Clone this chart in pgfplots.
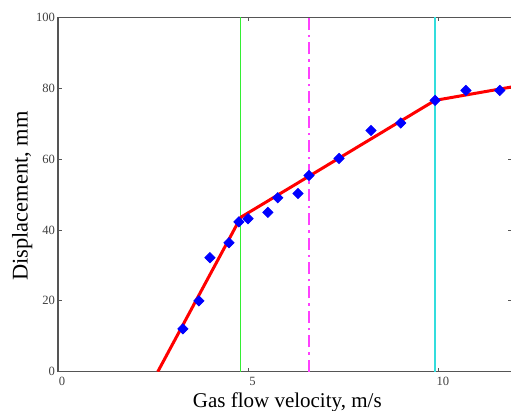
\documentclass[border=0pt]{standalone}
\usepackage{pgfplots}
\pgfplotsset{compat=1.18}
\usepackage{fontspec}
\setmainfont{Liberation Serif}
\definecolor{axgray}{HTML}{555555}
\definecolor{tickgray}{HTML}{404040}
\definecolor{mygreen}{HTML}{33EE33}
\definecolor{mycyan}{HTML}{33DDDD}
\definecolor{mymag}{rgb}{1,0.25,1}
\begin{document}
\begin{tikzpicture}
\path[use as bounding box] (-29pt,-19.65pt) rectangle (226.5pt,185.85pt);
\clip (-29pt,-19.65pt) rectangle (226.5pt,185.85pt);
\begin{axis}[
  at={(0,0)}, anchor=south west,
  scale only axis, width=227pt, height=177.1pt,
  xmin=0, xmax=11.92, ymin=0, ymax=100,
  xtick={0,5,10}, ytick={0,20,40,60,80,100},
  tick align=inside, major tick length=2pt,
  tick style={axgray, line width=0.5pt},
  axis line style={axgray, line width=0.8pt},
  /pgf/number format/assume math mode=true,
  ticklabel style={font=\fontsize{6.3}{7}\selectfont, text=tickgray},
  xticklabel style={xshift=2pt, yshift=1pt},
  yticklabel style={xshift=2pt},
  xlabel={Gas flow velocity, m/s},
  ylabel={Displacement, mm},
  every axis x label/.style={font=\fontsize{10.5}{12}\selectfont, at={(axis description cs:0.505,0)}, anchor=center, yshift=-15.5pt},
  every axis y label/.style={font=\fontsize{11.2}{12}\selectfont, at={(axis description cs:-0.079,0.496)}, anchor=center, rotate=90},
  clip=true,
]
\addplot[mygreen, line width=0.6pt] coordinates {(4.80,0) (4.80,100)};
\addplot[mycyan, line width=0.6pt] coordinates {(9.90,0) (9.90,100)};
\addplot[draw=mymag, line width=0.9pt, dash pattern=on 6pt off 2.5pt on 1.2pt off 2.5pt] coordinates {(6.60,0) (6.60,100)};
\addplot[red, line width=1.5pt] coordinates {(2.62,0) (4.80,43.6) (9.90,76.6) (11.92,80.4)};
\addplot[only marks, blue, mark=square*, mark size=1.8pt, mark options={rotate=45, fill=blue, draw=blue}] coordinates {
(3.28,12.1) (3.70,20.0) (3.99,32.2) (4.49,36.4) (4.75,42.3) (4.99,43.2)
(5.51,45.0) (5.77,49.1) (6.30,50.3) (6.59,55.4) (7.38,60.2) (8.22,68.1)
(9.00,70.2) (9.90,76.6) (10.71,79.4) (11.60,79.4)};
\end{axis}
\end{tikzpicture}
\end{document}
